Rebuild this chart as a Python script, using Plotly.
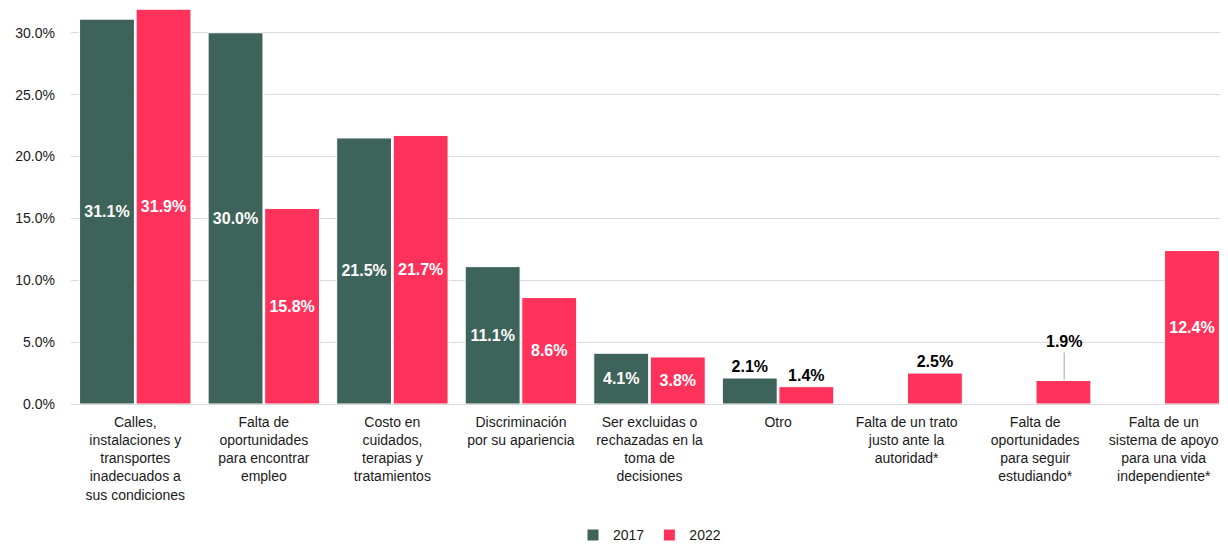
import plotly.graph_objects as go

categories = [
    "Calles,<br>instalaciones y<br>transportes<br>inadecuados a<br>sus condiciones",
    "Falta de<br>oportunidades<br>para encontrar<br>empleo",
    "Costo en<br>cuidados,<br>terapias y<br>tratamientos",
    "Discriminación<br>por su apariencia",
    "Ser excluidas o<br>rechazadas en la<br>toma de<br>decisiones",
    "Otro",
    "Falta de un trato<br>justo ante la<br>autoridad*",
    "Falta de<br>oportunidades<br>para seguir<br>estudiando*",
    "Falta de un<br>sistema de apoyo<br>para una vida<br>independiente*",
]
values_2017 = [31.1, 30.0, 21.5, 11.1, 4.1, 2.1, None, None, None]
values_2022 = [31.9, 15.8, 21.7, 8.6, 3.8, 1.4, 2.5, 1.9, 12.4]

GREEN = "#3e635a"
PINK = "#ff325b"
FONT = "Liberation Sans, Arial, sans-serif"


def label_pos(vals):
    return ["outside" if (v is not None and v < 3) else "inside" for v in vals]


def label_text(vals, skip=()):
    out = []
    for i, v in enumerate(vals):
        out.append("" if (v is None or i in skip) else f"<b>{v:.1f}%</b>")
    return out


fig = go.Figure()
fig.add_trace(go.Bar(
    name="2017", x=categories, y=values_2017,
    marker=dict(color=GREEN, line=dict(color="white", width=1)),
    text=label_text(values_2017), textposition=label_pos(values_2017),
    insidetextanchor="middle", constraintext="none", cliponaxis=False,
    insidetextfont=dict(color="white", size=16, family=FONT),
    outsidetextfont=dict(color="black", size=16, family=FONT),
    hoverinfo="skip",
))
# 1.9% gets its own label with a leader line
fig.add_trace(go.Bar(
    name="2022", x=categories, y=values_2022,
    marker=dict(color=PINK, line=dict(color="white", width=1)),
    text=label_text(values_2022, skip=(7,)), textposition=label_pos(values_2022),
    insidetextanchor="middle", constraintext="none", cliponaxis=False,
    insidetextfont=dict(color="white", size=16, family=FONT),
    outsidetextfont=dict(color="black", size=16, family=FONT),
    hoverinfo="skip",
))

fig.add_annotation(
    x=categories[7], y=values_2022[7], xshift=29,
    text="<b>1.9%</b>", showarrow=True, arrowhead=0, arrowwidth=1,
    arrowcolor="#a6a6a6", ax=0, ay=-28, standoff=1,
    font=dict(color="black", size=16, family=FONT),
    yanchor="bottom",
)

# page body has an 8px margin, so the figure is sized to end at the window edge
fig.update_layout(
    width=1220, height=536,
    margin=dict(l=63, r=0, t=0, b=140),
    barmode="group", bargap=0.12, bargroupgap=0.03,
    plot_bgcolor="white", paper_bgcolor="white",
    font=dict(family=FONT, size=14, color="#1a1a1a"),
    legend=dict(orientation="h", x=0.5, xanchor="center",
                yref="container", y=0.016, yanchor="middle",
                font=dict(size=14, color="#1a1a1a"), itemwidth=30,
                traceorder="normal"),
    showlegend=True,
)
fig.update_yaxes(
    range=[0, 32.0], dtick=5, tickformat=".1f", ticksuffix="%",
    showgrid=True, gridcolor="#d9d9d9", gridwidth=1, zeroline=False,
    ticks="", ticklabelstandoff=15, tickfont=dict(size=14), automargin=False,
)
fig.update_xaxes(
    showline=True, linecolor="#d9d9d9", linewidth=1, ticks="",
    tickfont=dict(size=14), tickangle=0, ticklabelstandoff=5, automargin=False,
)

fig.write_html("out.html")
